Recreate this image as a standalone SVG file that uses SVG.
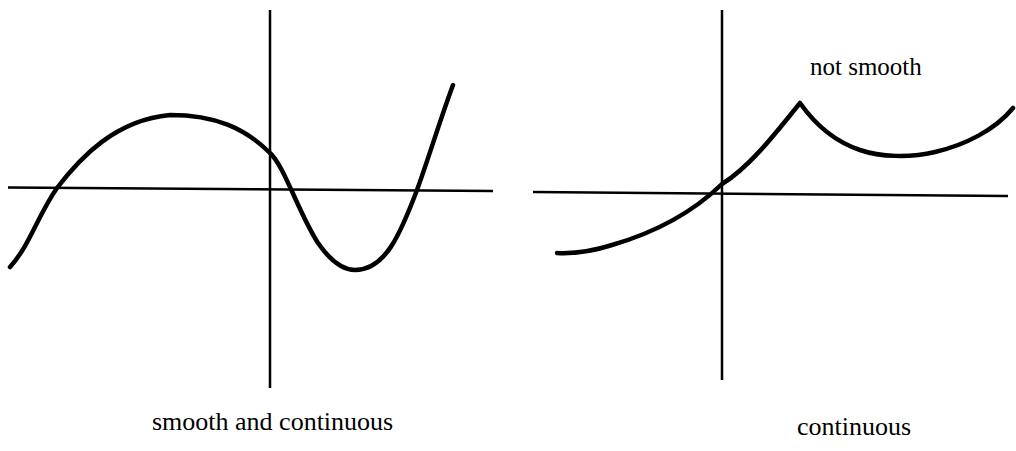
<svg xmlns="http://www.w3.org/2000/svg" width="1016" height="451" viewBox="0 0 1016 451">
<style>
.ax{stroke:#000;stroke-width:2.5;fill:none}
.cv{stroke:#000;stroke-width:4.5;fill:none;stroke-linecap:round;stroke-linejoin:round}
.lb{font-family:"Liberation Serif","Times New Roman",serif;font-size:26px;fill:#000}
</style>
<rect width="1016" height="451" fill="#fff"/>
<g id="left-graph">
<line class="ax" x1="8" y1="187.5" x2="493" y2="191"/>
<line class="ax" x1="270" y1="10" x2="270" y2="388"/>
<path class="cv" d="M10,267 C30,245 38,215 57,188 C80,158 115,120 170,115 C215,115 245,128 270,153 C285,167 298,212 318,243 C332,263 345,270 355,270 C385,270 400,235 417,190 C428,160 440,120 453,85"/>
</g>
<g id="right-graph">
<line class="ax" x1="533" y1="192" x2="1008" y2="196"/>
<line class="ax" x1="722" y1="10" x2="722" y2="380"/>
<path class="cv" d="M557,253 C575,254 590,252 612,245 C650,234 690,215 722,184 C748,168 772,138 800,103 C812,120 830,140 860,150 C880,157 910,158 935,152 C965,145 995,130 1013,108"/>
</g>
<g id="labels">
<text class="lb" x="152" y="430">smooth and continuous</text>
<text class="lb" x="797" y="435">continuous</text>
<text class="lb" x="810" y="75" style="font-size:25px">not smooth</text>
</g>
</svg>
